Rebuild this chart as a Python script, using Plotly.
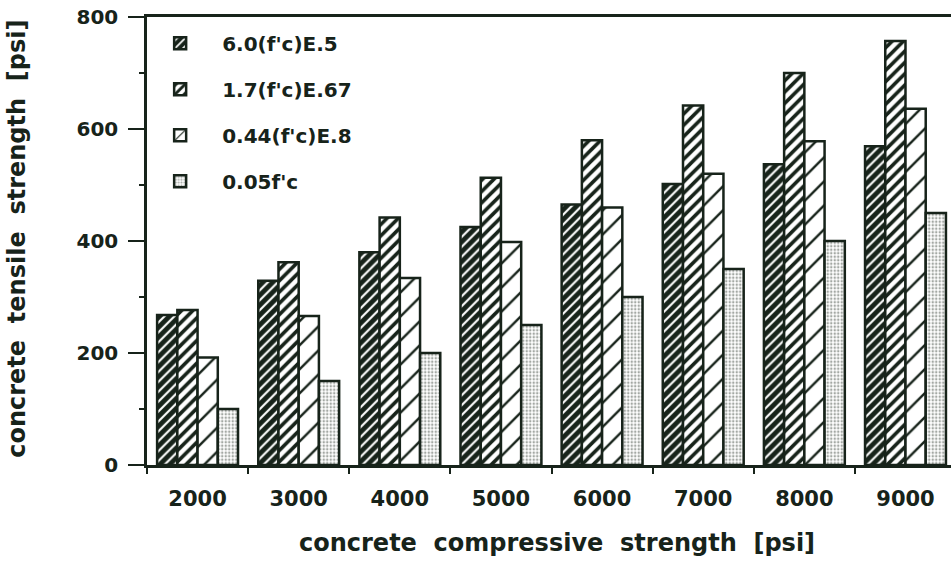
import plotly.graph_objects as go

# Compressive strength classes (psi) and predicted tensile strength (psi)
strengths = ["2000", "3000", "4000", "5000", "6000", "7000", "8000", "9000"]
series_names = ["6.0(f'c)E.5", "1.7(f'c)E.67", "0.44(f'c)E.8", "0.05f'c"]
sqrt_model = [268, 329, 380, 425, 465, 502, 537, 569]
pow67_model = [277, 362, 442, 513, 580, 642, 700, 757]
pow8_model = [192, 266, 334, 398, 460, 520, 578, 636]
linear_model = [100, 150, 200, 250, 300, 350, 400, 450]
y_ticks = [0, 200, 400, 600, 800]

INK = "#17231a"
FONT = "DejaVu Sans"

positions = list(range(len(strengths)))

styles = [
    dict(color=INK, pattern=dict(shape="/", fgcolor="white", bgcolor=INK,
                                 size=7, solidity=0.3, fillmode="replace")),
    dict(color="white", pattern=dict(shape="/", fgcolor=INK, bgcolor="white",
                                     size=8, solidity=0.45, fillmode="replace")),
    dict(color="white", pattern=dict(shape="/", fgcolor=INK, bgcolor="white",
                                     size=17, solidity=0.14, fillmode="replace")),
    dict(color="white", pattern=dict(shape=".", fgcolor="#a3a8a3", bgcolor="white",
                                     size=3.5, solidity=0.4, fillmode="replace")),
]

fig = go.Figure()
for i, (name, vals) in enumerate(zip(series_names,
                                     [sqrt_model, pow67_model, pow8_model, linear_model])):
    fig.add_trace(go.Bar(
        x=positions, y=vals, name=name, legendgroup=f"g{i}",
        marker=dict(color=styles[i]["color"], pattern=styles[i]["pattern"],
                    line=dict(color=INK, width=2.5)),
    ))

fig.update_layout(
    width=951, height=562,
    margin=dict(l=147, r=0, t=17, b=97),
    paper_bgcolor="white", plot_bgcolor="white",
    barmode="group", bargap=0.2, bargroupgap=0,
    font=dict(family=FONT, color=INK),
    showlegend=True,
    legend=dict(x=-0.011, y=0.985, xanchor="left", yanchor="top",
                bgcolor="rgba(0,0,0,0)", tracegroupgap=17, itemwidth=74,
                font=dict(family=FONT, size=20, color=INK, weight="bold")),
    xaxis=dict(
        range=[-0.5, 7.45], tickmode="array", tickvals=positions, ticktext=strengths,
        ticks="", showgrid=False, zeroline=False, ticklabelstandoff=13,
        showline=True, linecolor=INK, linewidth=2.5, mirror=True,
        tickfont=dict(family=FONT, size=21, color=INK, weight="bold"),
        minor=dict(tick0=-0.5, dtick=1, ticks="outside", ticklen=6,
                   tickwidth=2, tickcolor=INK, showgrid=False),
    ),
    yaxis=dict(
        range=[0, 800], tickmode="array", tickvals=y_ticks,
        ticks="outside", ticklen=16, tickwidth=2, tickcolor=INK,
        ticklabelstandoff=6,
        showgrid=False, zeroline=False,
        showline=True, linecolor=INK, linewidth=2.5, mirror=False,
        tickfont=dict(family=FONT, size=20, color=INK, weight="bold"),
        minor=dict(dtick=100, ticks="outside", ticklen=5, tickwidth=2,
                   tickcolor=INK, showgrid=False),
    ),
    annotations=[
        dict(text="concrete  compressive  strength  [psi]", xref="paper", yref="paper",
             x=0.51, y=-0.174, xanchor="center", yanchor="middle", showarrow=False,
             font=dict(family=FONT, size=24, color=INK, weight="bold")),
        dict(text="concrete  tensile  strength  [psi]", xref="paper", yref="paper",
             x=-0.161, y=0.504, xanchor="center", yanchor="middle", showarrow=False,
             textangle=-90, font=dict(family=FONT, size=24, color=INK, weight="bold")),
    ],
)

fig.write_html("out.html")
